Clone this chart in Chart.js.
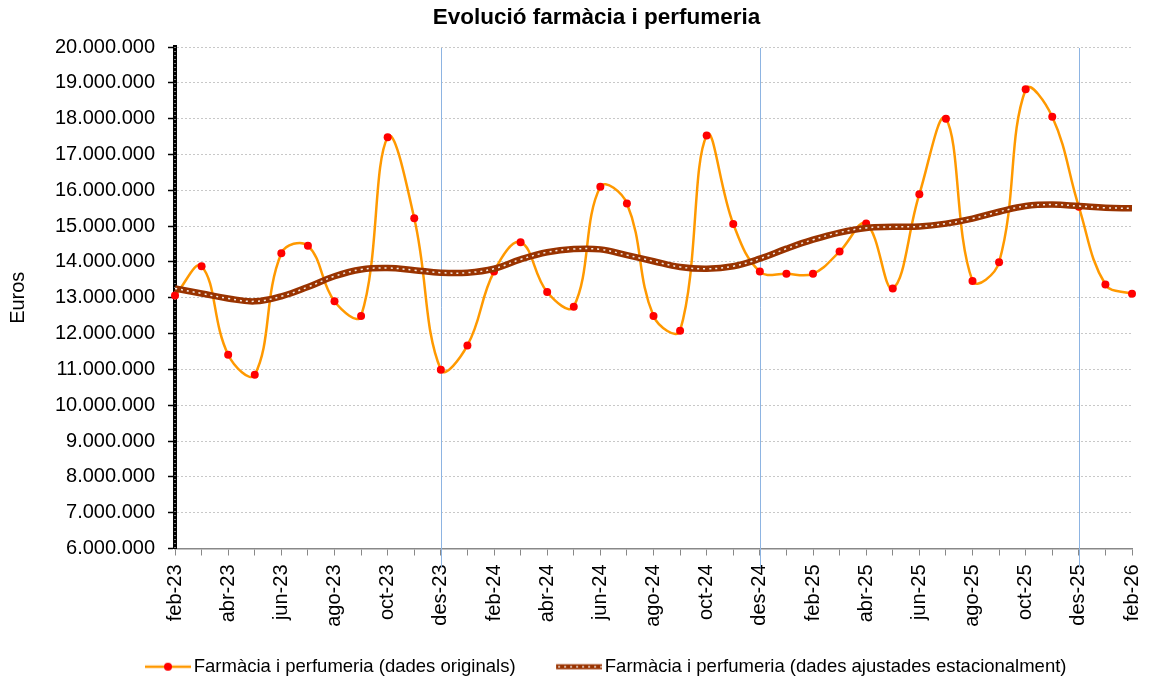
<!DOCTYPE html>
<html>
<head>
<meta charset="utf-8">
<title>Evolució farmàcia i perfumeria</title>
<script src="https://cdn.jsdelivr.net/npm/chart.js@4.4.1/dist/chart.umd.min.js"></script>
<style>
  html, body { margin: 0; padding: 0; background: #fff; }
  canvas { display: block; }
</style>
</head>
<body>
<canvas id="farmaciaChart" width="1149" height="686"></canvas>
<script>
// monthly categories, feb-23 .. feb-26
const months = [
    'feb-23', 'mar-23', 'abr-23', 'mai-23', 'jun-23', 'jul-23', 'ago-23', 'set-23', 'oct-23', 'nov-23', 'des-23',
    'gen-24', 'feb-24', 'mar-24', 'abr-24', 'mai-24', 'jun-24', 'jul-24', 'ago-24', 'set-24', 'oct-24', 'nov-24', 'des-24',
    'gen-25', 'feb-25', 'mar-25', 'abr-25', 'mai-25', 'jun-25', 'jul-25', 'ago-25', 'set-25', 'oct-25', 'nov-25', 'des-25',
    'gen-26', 'feb-26'
];

// dades originals (euros)
const originals = [
    13060000, 13880000, 11410000, 10850000, 14240000, 14450000, 12900000, 12490000, 17480000, 15220000, 10990000,
    11670000, 13730000, 14550000, 13160000, 12750000, 16100000, 15630000, 12490000, 12080000, 17530000, 15060000, 13730000,
    13670000, 13670000, 14290000, 15070000, 13260000, 15890000, 18000000, 13470000, 13990000, 18820000, 18050000, 15540000,
    13370000, 13110000
];

// dades ajustades estacionalment (euros)
const adjusted = [
    13260000, 13120000, 12980000, 12900000, 13040000, 13300000, 13600000, 13790000, 13830000, 13770000, 13700000,
    13700000, 13810000, 14070000, 14270000, 14360000, 14350000, 14190000, 14020000, 13860000, 13810000, 13880000, 14090000,
    14370000, 14620000, 14820000, 14950000, 14980000, 14990000, 15070000, 15210000, 15400000, 15560000, 15600000, 15560000,
    15510000, 15500000
];

// months marked with a vertical line
const markerMonths = ['des-23', 'des-24', 'des-25'];

const seriesNames = [
    'Farmàcia i perfumeria (dades originals)',
    'Farmàcia i perfumeria (dades ajustades estacionalment)'
];

// y axis range
const yMin = 6000000;
const yMax = 20000000;
const yStep = 1000000;

const ORANGE = '#ff9900';
const BROWN = '#993300';
const FONT = "'Liberation Sans', Arial, sans-serif";

Chart.defaults.font.family = FONT;
Chart.defaults.color = '#000';

function formatEuros(v) {
    return String(Math.round(v)).replace(/\B(?=(\d{3})+(?!\d))/g, '.');
}

// legend symbols: line sample drawn on a small canvas
function legendSymbol(draw) {
    const c = document.createElement('canvas');
    c.width = 83;
    c.height = 12;
    draw(c.getContext('2d'));
    return c;
}
const originalSymbol = legendSymbol(ctx => {
    ctx.strokeStyle = ORANGE;
    ctx.lineWidth = 2.5;
    ctx.beginPath();
    ctx.moveTo(37, 6);
    ctx.lineTo(83, 6);
    ctx.stroke();
    ctx.fillStyle = '#ff0000';
    ctx.beginPath();
    ctx.arc(60, 6, 4, 0, Math.PI * 2);
    ctx.fill();
});
const adjustedSymbol = legendSymbol(ctx => {
    ctx.strokeStyle = BROWN;
    ctx.lineWidth = 5;
    ctx.beginPath();
    ctx.moveTo(37, 6);
    ctx.lineTo(83, 6);
    ctx.stroke();
    ctx.strokeStyle = 'rgba(255,255,255,0.85)';
    ctx.lineWidth = 1.5;
    ctx.setLineDash([2, 4]);
    ctx.beginPath();
    ctx.moveTo(39, 6);
    ctx.lineTo(83, 6);
    ctx.stroke();
});

// white dots on the left axis + blue december lines
const overlays = {
    id: 'overlays',
    afterLayout(chart) {
        // nudge the legend row and the title to the right
        chart.legend.left += 16;
        chart.legend.right += 16;
        chart.titleBlock.left += 22;
        chart.titleBlock.right += 22;
    },
    beforeDatasetsDraw(chart) {
        const {ctx, chartArea, scales: {x}} = chart;
        ctx.save();
        ctx.strokeStyle = '#ffffff';
        ctx.lineWidth = 1;
        ctx.setLineDash([1, 3]);
        ctx.beginPath();
        ctx.moveTo(chartArea.left, chartArea.top);
        ctx.lineTo(chartArea.left, chartArea.bottom);
        ctx.stroke();

        ctx.setLineDash([]);
        ctx.strokeStyle = '#8db4e2';
        ctx.lineWidth = 1;
        markerMonths.forEach(m => {
            const px = Math.round(x.getPixelForValue(months.indexOf(m))) + 0.5;
            ctx.beginPath();
            ctx.moveTo(px, chartArea.top + 1);
            ctx.lineTo(px, chartArea.bottom + 19);
            ctx.stroke();
        });
        ctx.restore();
    }
};

const ctx1 = document.getElementById('farmaciaChart').getContext('2d');
const chart = new Chart(ctx1, {
    type: 'line',
    data: {
        labels: months,
        datasets: [{
            label: seriesNames[0],
            data: originals,
            borderColor: ORANGE,
            backgroundColor: '#ff0000',
            borderWidth: 2.5,
            tension: 0.4,
            pointRadius: 4,
            pointBorderWidth: 0,
            pointBackgroundColor: '#ff0000',
            order: 2
        }, {
            label: seriesNames[1],
            data: adjusted,
            borderColor: BROWN,
            borderWidth: 6.5,
            tension: 0.4,
            pointRadius: 0,
            order: 1
        }, {
            // white dotted core of the seasonally adjusted line
            label: 'core',
            data: adjusted,
            borderColor: 'rgba(255,255,255,0.9)',
            borderWidth: 1.5,
            borderDash: [2, 4],
            tension: 0.4,
            pointRadius: 0,
            order: 0
        }]
    },
    options: {
        responsive: false,
        animation: false,
        devicePixelRatio: 1,
        layout: {
            padding: 0
        },
        scales: {
            x: {
                type: 'category',
                offset: false,
                afterFit: scale => {
                    scale.height = 99;
                    scale.paddingRight = 17;
                },
                grid: {
                    drawOnChartArea: false,
                    drawTicks: true,
                    tickLength: 7,
                    tickColor: '#888',
                    tickWidth: 1
                },
                border: { color: '#888', width: 1.5 },
                ticks: {
                    autoSkip: false,
                    minRotation: 90,
                    maxRotation: 90,
                    padding: 9,
                    font: { size: 20 },
                    color: '#000',
                    callback: function (value, index) {
                        return index % 2 === 0 ? this.getLabelForValue(value) : '';
                    }
                }
            },
            y: {
                min: yMin,
                max: yMax,
                afterFit: scale => { scale.width = 175; },
                grid: {
                    color: '#c8c8c8',
                    lineWidth: 1,
                    drawTicks: true,
                    tickLength: 7,
                    tickColor: '#000',
                    tickWidth: 1.5,
                    tickBorderDash: []
                },
                border: { color: '#000', width: 4, dash: [2, 2] },
                ticks: {
                    stepSize: yStep,
                    padding: 13,
                    font: { size: 20 },
                    color: '#000',
                    callback: v => formatEuros(v)
                },
                title: {
                    display: true,
                    text: 'Euros',
                    font: { size: 20 },
                    color: '#000',
                    padding: { top: 6, bottom: 0 }
                }
            }
        },
        plugins: {
            title: {
                display: true,
                text: 'Evolució farmàcia i perfumeria',
                font: { size: 22.5, weight: 'bold' },
                color: '#000',
                padding: { top: 4, bottom: 16 }
            },
            legend: {
                position: 'bottom',
                labels: {
                    usePointStyle: true,
                    pointStyleWidth: 70,
                    padding: 10,
                    font: { size: 18.5 },
                    color: '#000',
                    generateLabels: chart => {
                        const items = Chart.defaults.plugins.legend.labels.generateLabels(chart)
                            .filter(item => item.datasetIndex < 2)
                            .sort((a, b) => a.datasetIndex - b.datasetIndex);
                        items.forEach(item => {
                            item.pointStyle = item.datasetIndex === 0 ? originalSymbol : adjustedSymbol;
                        });
                        return items;
                    }
                }
            },
            tooltip: { enabled: false }
        }
    },
    plugins: [overlays]
});
</script>
</body>
</html>
